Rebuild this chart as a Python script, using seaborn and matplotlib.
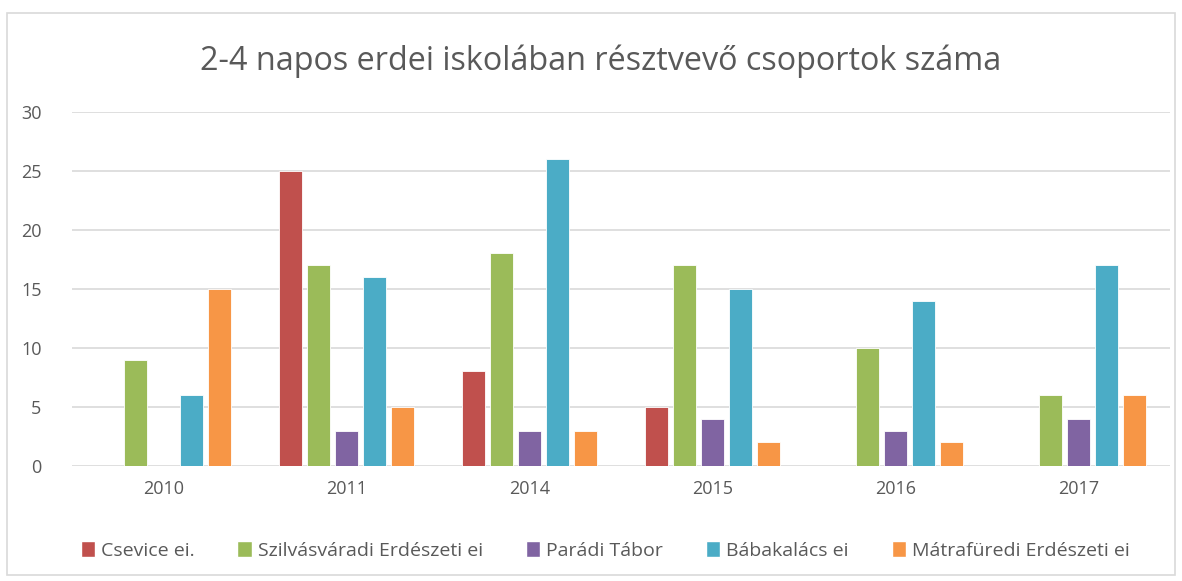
import matplotlib
matplotlib.use("Agg")
import matplotlib.pyplot as plt
import seaborn as sns
import pandas as pd
from matplotlib.patches import Rectangle

years = ["2010", "2011", "2014", "2015", "2016", "2017"]
series = ["Csevice ei.", "Szilvásváradi Erdészeti ei", "Parádi Tábor",
          "Bábakalács ei", "Mátrafüredi Erdészeti ei"]
csevice = [0, 25, 8, 5, 0, 0]
szilvasvaradi = [9, 17, 18, 17, 10, 6]
paradi = [0, 3, 3, 4, 3, 4]
babakalacs = [6, 16, 26, 15, 14, 17]
matrafuredi = [15, 5, 3, 2, 2, 6]
colors = ["#C0504D", "#9BBB59", "#8064A2", "#4BACC6", "#F79646"]

values = [csevice, szilvasvaradi, paradi, babakalacs, matrafuredi]
rows = []
for name, vals in zip(series, values):
    for y, v in zip(years, vals):
        rows.append({"year": y, "series": name, "value": v})
df = pd.DataFrame(rows)

sns.set_theme(style="white")
plt.rcParams['font.family'] = ['Open Sans', 'DejaVu Sans']

fig = plt.figure(figsize=(11.82, 5.81), dpi=100)
ax = fig.add_axes([0.061, 0.198, 0.929, 0.61])
sns.barplot(data=df, x="year", y="value", hue="series", order=years,
            hue_order=series, palette=colors, saturation=1, width=0.765, gap=0.18,
            edgecolor="white", linewidth=0.6, ax=ax, legend=True)

ax.set_ylim(0, 30)
ax.set_yticks(range(0, 31, 5))
ax.set_xlim(-0.5, 5.5)
ax.yaxis.grid(True, color="#D9D9D9", linewidth=1.2)
ax.set_axisbelow(True)
for s in ax.spines.values():
    s.set_visible(False)
ax.set_xlabel("")
ax.set_ylabel("")
ax.tick_params(axis="both", length=0, labelsize=13, labelcolor="#595959")
ax.tick_params(axis="x", pad=10)
ax.tick_params(axis="y", pad=22)

ax.legend_.remove()
handles = [Rectangle((0, 0), 1, 1, facecolor=c) for c in colors]
fig.legend(handles, series, loc="center", bbox_to_anchor=(0.512, 0.053),
           ncol=5, frameon=False, fontsize=14, handlelength=0.75,
           handleheight=0.9, handletextpad=0.3, columnspacing=2.2,
           labelcolor="#595959")

fig.text(0.508, 0.895, "2-4 napos erdei iskolában résztvevő csoportok száma",
         ha="center", va="center", fontsize=23.3, color="#595959")

fig.patches.append(Rectangle((0.006, 0.01), 0.988, 0.968, transform=fig.transFigure,
                             fill=False, edgecolor="#D9D9D9", linewidth=1.2))

fig.savefig("out.png", dpi=100)
